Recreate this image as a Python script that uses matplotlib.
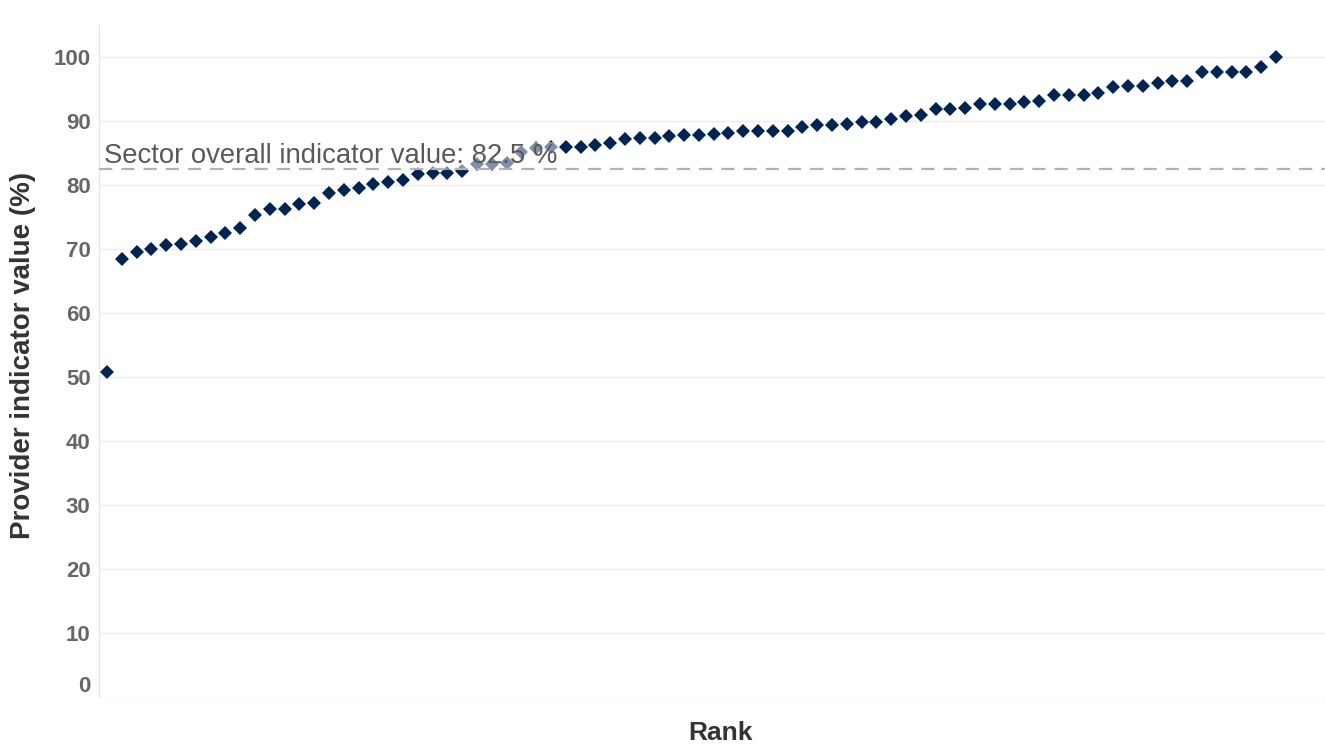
import matplotlib
matplotlib.use("Agg")
import matplotlib.pyplot as plt
import matplotlib.transforms as mtransforms
import numpy as np

plt.rcParams['font.family'] = ['Liberation Sans', 'DejaVu Sans']

# Provider indicator values (%) sorted by rank
values = [
    50.8, 68.4, 69.5, 70.0, 70.6, 70.7, 71.2, 71.8, 72.5, 73.2,
    75.3, 76.2, 76.2, 77.0, 77.1, 78.7, 79.2, 79.5, 80.1, 80.4,
    80.8, 81.7, 81.8, 81.8, 82.2, 83.3, 83.3, 83.4, 85.2, 85.8,
    85.9, 86.0, 86.0, 86.3, 86.6, 87.1, 87.3, 87.3, 87.7, 87.8,
    87.8, 88.0, 88.1, 88.4, 88.4, 88.5, 88.5, 89.0, 89.3, 89.3,
    89.5, 89.8, 89.8, 90.3, 90.8, 90.9, 91.8, 91.8, 92.0, 92.7,
    92.7, 92.7, 93.0, 93.1, 94.1, 94.1, 94.1, 94.3, 95.3, 95.4,
    95.4, 95.9, 96.3, 96.3, 97.6, 97.6, 97.6, 97.6, 98.4, 100.0,
]
ranks = list(range(1, len(values) + 1))
sector_value = 82.5
sector_label = "Sector overall indicator value: 82.5 %"
y_ticks = [0, 10, 20, 30, 40, 50, 60, 70, 80, 90, 100]

fig = plt.figure(figsize=(13.25, 7.45), dpi=100)
ax = fig.add_axes([99 / 1325, 48.5 / 745, 1 - 99 / 1325, (745 - 25 - 48.5) / 745])

ax.plot(ranks, values, linestyle='none', marker='D', markersize=7.2,
        color='#002452', markeredgewidth=0, zorder=3)

ax.axhline(sector_value, color='#b3b3b3', linewidth=1.6, linestyle=(0, (6, 4)), zorder=5)

ax.text(0.004, 83.4, sector_label, transform=mtransforms.blended_transform_factory(ax.transAxes, ax.transData),
        fontsize=19.8, color='#595959', ha='left', va='baseline', zorder=4,
        bbox=dict(facecolor='white', alpha=0.5, edgecolor='none', pad=0.5))

ax.set_xlim(0.46, 83.31)
ax.set_ylim(0, 105)
ax.set_yticks(y_ticks)
ax.set_yticklabels([str(t) for t in y_ticks])
ax.set_xticks([])

ax.grid(axis='y', color='#ebebeb', linewidth=1.0, zorder=0)
ax.set_axisbelow(True)
for side in ['top', 'right', 'bottom']:
    ax.spines[side].set_visible(False)
ax.spines['left'].set_color('#e6e6e6')
ax.spines['left'].set_linewidth(1.0)

ax.tick_params(axis='y', length=0, pad=6, labelsize=16, labelcolor='#666666')
for lbl in ax.get_yticklabels():
    lbl.set_fontweight('bold')

# nudge the "0" label upward as in the reference
zero_lbl = ax.yaxis.get_major_ticks()[0].label1
zero_lbl.set_transform(zero_lbl.get_transform() + mtransforms.ScaledTranslation(0, 9 / 72, fig.dpi_scale_trans))

ax.set_ylabel('Provider indicator value (%)', fontsize=20, fontweight='bold', color='#333333')
ax.yaxis.set_label_coords(-0.051, 0.508)
ax.set_xlabel('Rank', fontsize=19, fontweight='bold', color='#333333')
ax.xaxis.set_label_coords(0.507, -0.036)

fig.savefig('out.png', dpi=100)
